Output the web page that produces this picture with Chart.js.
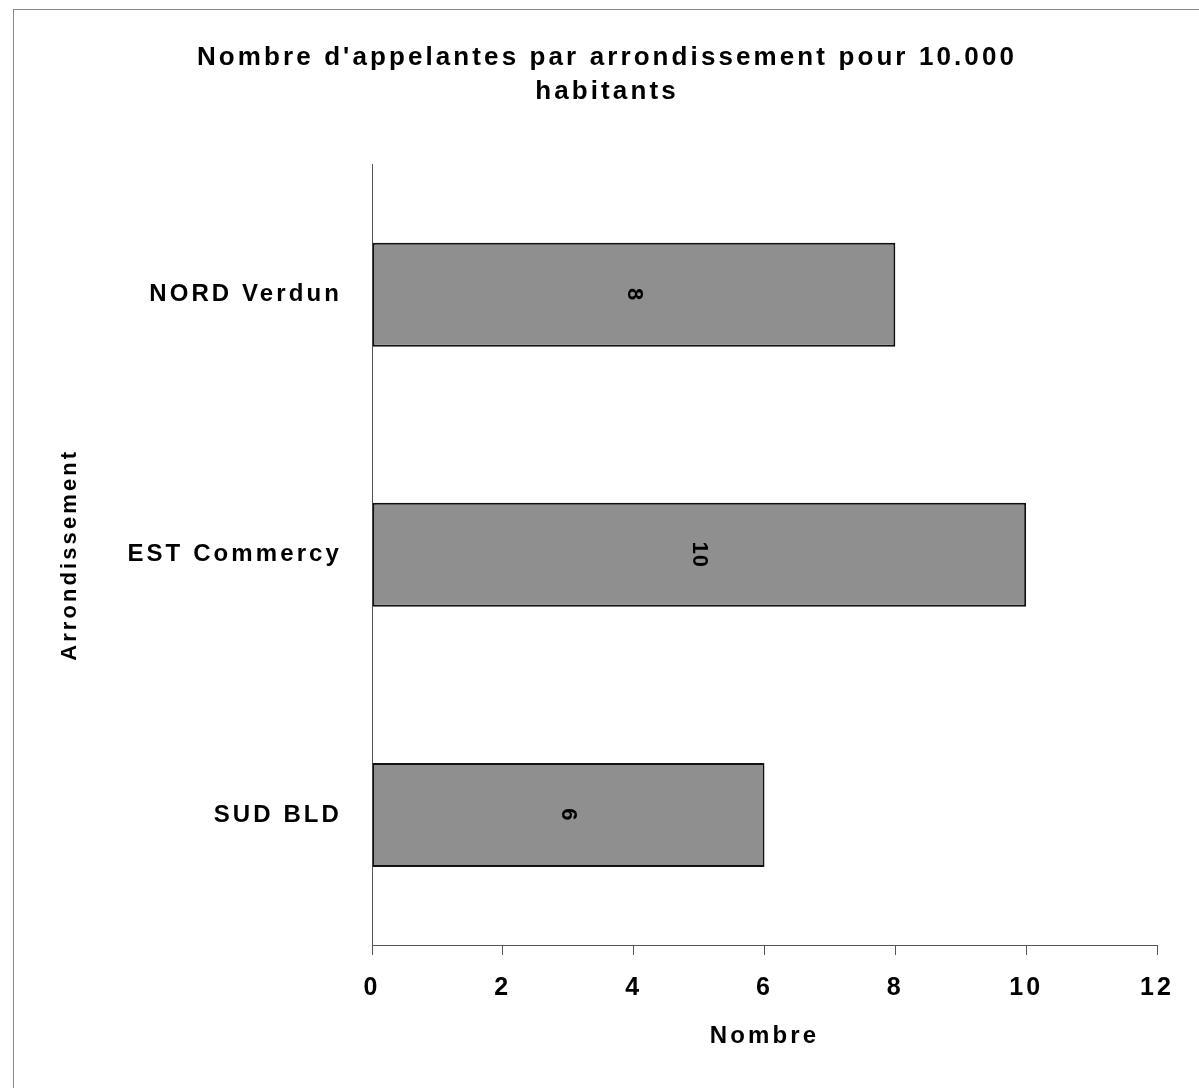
<!DOCTYPE html>
<html>
<head>
<meta charset="utf-8">
<script src="https://cdn.jsdelivr.net/npm/chart.js@4"></script>
<style>
  html, body { margin: 0; padding: 0; background: #fff; }
  #frame { position: absolute; left: 13px; top: 9px; width: 1186px; height: 1079px;
           border-top: 1px solid #8a8a8a; border-left: 1px solid #8a8a8a; }
  canvas { position: absolute; left: 0; top: 0; }
</style>
</head>
<body>
<div id="frame"></div>
<canvas id="chart" width="1199" height="1088"></canvas>
<script>
const titleLines = ["Nombre d'appelantes par arrondissement pour 10.000", "habitants"];
const categories = ["NORD Verdun", "EST Commercy", "SUD BLD"];
const values = [8, 10, 6];
const xTicks = [0, 2, 4, 6, 8, 10, 12];
const xTitle = "Nombre";
const yTitle = "Arrondissement";

const fontFamily = "'Liberation Sans', Arial, sans-serif";

// spaced lettering like the original
const spacing = {
  id: "spacing",
  beforeUpdate(chart) { chart.ctx.letterSpacing = "3.1px"; },
  beforeDraw(chart) { chart.ctx.letterSpacing = "3.1px"; }
};

// value written sideways in the middle of each bar
const barValues = {
  id: "barValues",
  afterDatasetsDraw(chart) {
    const ctx = chart.ctx;
    const meta = chart.getDatasetMeta(0);
    ctx.save();
    ctx.letterSpacing = "1px";
    ctx.font = "bold 22px " + fontFamily;
    ctx.fillStyle = "#000";
    ctx.textAlign = "center";
    ctx.textBaseline = "middle";
    meta.data.forEach((bar, i) => {
      const cx = (bar.base + bar.x) / 2;
      ctx.save();
      ctx.translate(cx, bar.y);
      ctx.rotate(Math.PI / 2);
      ctx.fillText(String(values[i]), 0, 0);
      ctx.restore();
    });
    ctx.restore();
  }
};

new Chart(document.getElementById("chart"), {
  type: "bar",
  data: {
    labels: categories,
    datasets: [{
      data: values,
      backgroundColor: "#8f8f8f",
      borderColor: "#111",
      borderWidth: 2,
      borderSkipped: false,
      categoryPercentage: 1,
      barPercentage: 0.4
    }]
  },
  options: {
    indexAxis: "y",
    responsive: false,
    devicePixelRatio: 1,
    animation: false,
    layout: { padding: { left: 57, right: 42, top: 0, bottom: 0 } },
    plugins: {
      legend: { display: false },
      tooltip: { enabled: false },
      title: {
        display: true,
        text: titleLines,
        color: "#000",
        font: { family: fontFamily, size: 26, weight: "bold", lineHeight: 1.3 },
        padding: { top: 41, bottom: 56 }
      }
    },
    scales: {
      x: {
        min: 0,
        max: 12,
        afterBuildTicks(scale) { scale.ticks = xTicks.map(v => ({ value: v })); },
        afterFit(scale) { scale.height = 143; },
        grid: { drawOnChartArea: false, drawTicks: true, tickLength: 10, color: "#555" },
        border: { display: true, color: "#555", width: 1 },
        ticks: {
          color: "#000",
          padding: 18,
          maxRotation: 0,
          font: { family: fontFamily, size: 25, weight: "bold" }
        },
        title: {
          display: true,
          text: xTitle,
          color: "#000",
          font: { family: fontFamily, size: 24, weight: "bold", lineHeight: 1.2 },
          padding: { top: 0, bottom: 37 }
        }
      },
      y: {
        afterFit(scale) { scale.width = 315; },
        grid: { display: false, drawTicks: false },
        border: { display: true, color: "#555", width: 1 },
        ticks: {
          color: "#000",
          padding: 30,
          font: { family: fontFamily, size: 24, weight: "bold" }
        },
        title: {
          display: true,
          text: yTitle,
          color: "#000",
          font: { family: fontFamily, size: 22, weight: "bold", lineHeight: 1.2 },
          padding: { top: 0, bottom: 0 }
        }
      }
    }
  },
  plugins: [spacing, barValues]
});
</script>
</body>
</html>
